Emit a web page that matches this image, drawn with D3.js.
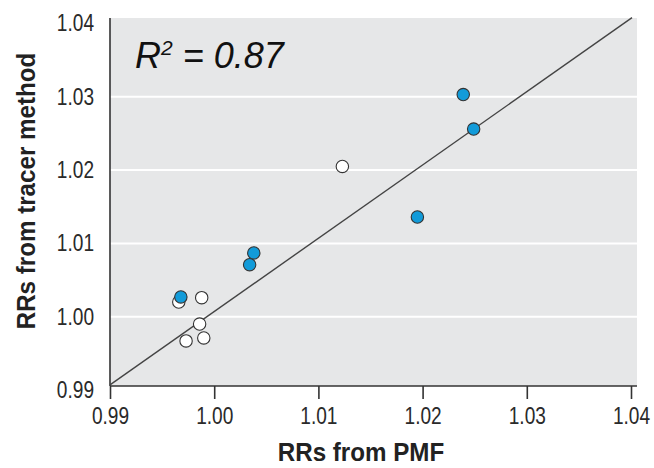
<!DOCTYPE html>
<html>
<head>
<meta charset="utf-8">
<script src="https://cdn.jsdelivr.net/npm/d3@7"></script>
<style>
  body { margin: 0; background: #fff; }
  svg { display: block; }
</style>
</head>
<body>
<div id="chart"></div>
<script>
// values
var pmfBlue = [1.0239, 1.0249, 1.0195, 1.0038, 1.0034, 0.9968];
var tracerBlue = [1.0303, 1.0256, 1.0136, 1.0087, 1.0071, 1.0027];
var pmfWhite = [1.0123, 0.9966, 0.9988, 0.9986, 0.9973, 0.9990];
var tracerWhite = [1.0205, 1.0020, 1.0026, 0.9990, 0.9967, 0.9971];
var lineX = [0.99, 1.0401];
var lineY = [0.9907, 1.0408];
var ticks = [0.99, 1.00, 1.01, 1.02, 1.03, 1.04];

var width = 654, height = 468;
var panel = {left: 110, right: 637, top: 18, bottom: 386};
var squeeze = 0.83; // the figure uses a condensed face
var font = '"Liberation Sans", Arial, sans-serif';

var svg = d3.select('#chart')
  .append('svg')
  .attr('width', width)
  .attr('height', height);

var x = d3.scaleLinear().domain([0.99, 1.04]).range([110, 631]);
var y = d3.scaleLinear().domain([0.99, 1.04]).range([390, 23.5]);

// panel
svg.append('rect')
  .attr('x', panel.left).attr('y', panel.top)
  .attr('width', panel.right - panel.left)
  .attr('height', panel.bottom - panel.top)
  .attr('fill', '#e6e7e8');

// white grid lines
svg.selectAll('line.grid')
  .data(ticks.slice(1, -1))
  .enter()
  .append('line')
  .attr('class', 'grid')
  .attr('x1', panel.left).attr('x2', panel.right)
  .attr('y1', function(d) { return y(d); })
  .attr('y2', function(d) { return y(d); })
  .attr('stroke', '#fff')
  .attr('stroke-width', 2);

// axes
var xAxis = d3.axisBottom(x).tickValues(ticks).tickFormat(d3.format('.2f')).tickSize(13).tickPadding(9);
var yAxis = d3.axisLeft(y).tickValues(ticks).tickFormat(d3.format('.2f')).tickSize(0);

var gx = svg.append('g')
  .attr('transform', 'translate(0,' + panel.bottom + ')')
  .call(xAxis);
var gy = svg.append('g')
  .attr('transform', 'translate(' + panel.left + ',0)')
  .call(yAxis);

[gx, gy].forEach(function(g) {
  g.attr('font-size', null).attr('font-family', null);
  g.selectAll('.tick text')
    .style('font-family', font)
    .style('font-size', '23px')
    .attr('fill', '#2a2a2a')
    .attr('transform', 'scale(' + squeeze + ',1)');
  g.select('.domain').remove();
});
gy.selectAll('.tick text').attr('x', -16 / squeeze);
gx.selectAll('.tick line').attr('stroke', '#333').attr('stroke-width', 1.6);

svg.append('line')
  .attr('x1', panel.left).attr('x2', panel.right)
  .attr('y1', panel.bottom).attr('y2', panel.bottom)
  .attr('stroke', '#333').attr('stroke-width', 1.6);
svg.append('line')
  .attr('x1', panel.left).attr('x2', panel.left)
  .attr('y1', panel.top).attr('y2', panel.bottom)
  .attr('stroke', '#333').attr('stroke-width', 1.6);

// reference line
svg.append('line')
  .attr('x1', x(lineX[0])).attr('y1', y(lineY[0]))
  .attr('x2', x(lineX[1])).attr('y2', y(lineY[1]))
  .attr('stroke', '#444')
  .attr('stroke-width', 1.4);

// points
svg.selectAll('circle.open')
  .data(pmfWhite)
  .enter()
  .append('circle')
  .attr('class', 'open')
  .attr('cx', function(d) { return x(d); })
  .attr('cy', function(d, i) { return y(tracerWhite[i]); })
  .attr('r', 6.2)
  .attr('fill', '#fff')
  .attr('stroke', '#333')
  .attr('stroke-width', 1.1);

svg.selectAll('circle.blue')
  .data(pmfBlue)
  .enter()
  .append('circle')
  .attr('class', 'blue')
  .attr('cx', function(d) { return x(d); })
  .attr('cy', function(d, i) { return y(tracerBlue[i]); })
  .attr('r', 6.2)
  .attr('fill', '#129bd9')
  .attr('stroke', '#333')
  .attr('stroke-width', 1.1);

// R squared annotation
var r2 = svg.append('text')
  .attr('x', 135).attr('y', 68)
  .style('font-family', font)
  .style('font-style', 'italic')
  .style('font-size', '36px')
  .attr('fill', '#111');
r2.append('tspan').text('R');
r2.append('tspan').style('font-size', '21px').attr('dy', -13).text('2');
r2.append('tspan').attr('dy', 13).text(' = 0.87');

// axis titles
svg.append('text')
  .style('font-family', font).style('font-weight', 'bold').style('font-size', '26px')
  .attr('fill', '#222')
  .attr('transform', 'translate(361,461) scale(0.93,1)')
  .attr('text-anchor', 'middle')
  .text('RRs from PMF');

svg.append('text')
  .style('font-family', font).style('font-weight', 'bold').style('font-size', '26px')
  .attr('fill', '#222')
  .attr('transform', 'translate(35,191) rotate(-90) scale(0.93,1)')
  .attr('text-anchor', 'middle')
  .text('RRs from tracer method');
</script>
</body>
</html>
